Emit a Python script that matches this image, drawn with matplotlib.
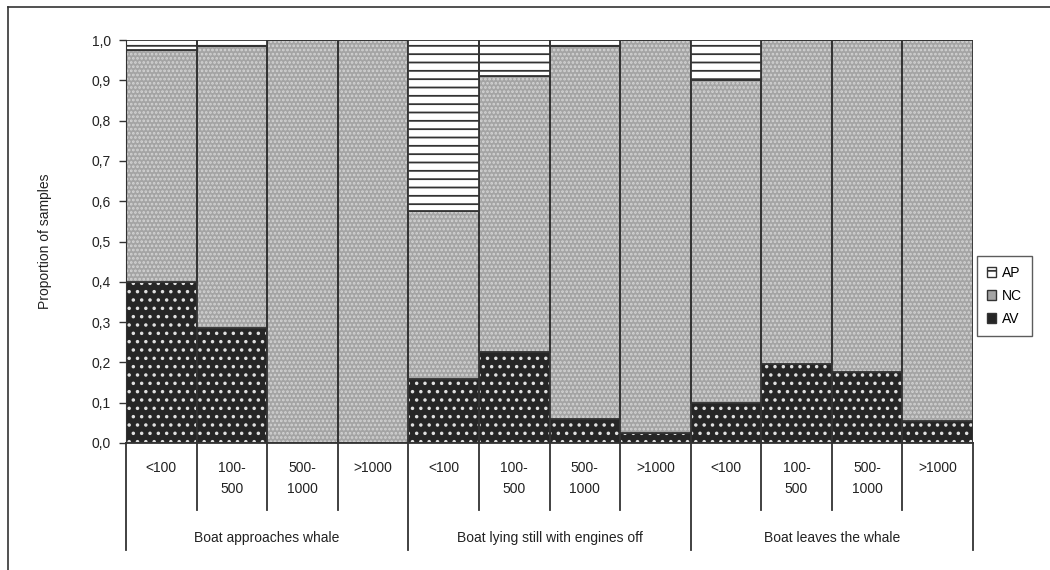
import matplotlib.pyplot as plt
import matplotlib.transforms as mtransforms
from matplotlib.patches import Patch
from matplotlib.lines import Line2D
import numpy as np

plt.rcParams['font.family'] = ['Liberation Sans', 'DejaVu Sans']
plt.rcParams['hatch.linewidth'] = 1.3

groups = ['Boat approaches whale', 'Boat lying still with engines off', 'Boat leaves the whale']
distances = ['<100', '100-\n500', '500-\n1000', '>1000']

av = [0.40, 0.285, 0.0, 0.0,
      0.16, 0.225, 0.06, 0.025,
      0.10, 0.195, 0.175, 0.055]
nc = [0.575, 0.70, 1.0, 1.0,
      0.415, 0.685, 0.925, 0.975,
      0.80, 0.805, 0.825, 0.945]
ap = [0.025, 0.015, 0.0, 0.0,
      0.425, 0.09, 0.015, 0.0,
      0.10, 0.0, 0.0, 0.0]

W, H = 1050, 570
fig = plt.figure(figsize=(W / 100, H / 100), dpi=100)
ax = fig.add_axes([126 / W, (H - 443) / H, (973 - 126) / W, (443 - 40) / H])

x = np.arange(len(av))
av = np.array(av)
nc = np.array(nc)
ap = np.array(ap)
outline = '#333333'

# fills with hatches (hatch colour comes from edgecolor), then outlines on top
series = [
    (av, np.zeros_like(av), '#262626', '#e0e0e0', '..'),
    (nc, av, '#a4a4a4', '#d4d4d4', '....'),
    (ap, av + nc, 'white', '#333333', '--'),
]
for vals, bottom, face, hcol, hatch in series:
    ax.bar(x, vals, 1.0, bottom=bottom, color=face, edgecolor=hcol,
           hatch=hatch, linewidth=0, align='center')
    ax.bar(x, vals, 1.0, bottom=bottom, fill=False, edgecolor=outline,
           linewidth=1.3, align='center')

ax.set_xlim(-0.5, len(av) - 0.5)
ax.set_ylim(0, 1.0)
ax.set_yticks(np.arange(0, 1.01, 0.1))
ax.set_yticklabels([('%.1f' % v).replace('.', ',') for v in np.arange(0, 1.01, 0.1)],
                   fontsize=10, color='#222222')
ax.tick_params(axis='y', direction='out', length=5, width=1, color='#333333', pad=6)
ax.set_xticks([])
for s in ['top', 'right']:
    ax.spines[s].set_visible(False)
ax.spines['left'].set_color('#333333')
ax.spines['bottom'].set_color('#333333')
ax.spines['bottom'].set_linewidth(1.3)
ax.set_ylabel('Proportion of samples', fontsize=10, color='#222222', labelpad=28)

# multi-level category axis
tr = mtransforms.blended_transform_factory(ax.transData, ax.transAxes)
inner_y = (443 - 510) / 403
outer_y = (443 - 550) / 403
for i in range(len(av) + 1):
    b = i - 0.5
    low = outer_y if i % 4 == 0 else inner_y
    ax.plot([b, b], [0, low], color='#333333', lw=1.3, transform=tr, clip_on=False)
for i, lab in enumerate(distances * len(groups)):
    ax.text(i, -0.045, lab, transform=tr, ha='center', va='top', fontsize=10,
            color='#222222', linespacing=1.6)
for g, name in enumerate(groups):
    ax.text(g * 4 + 1.5, -0.236, name, transform=tr, ha='center', va='center',
            fontsize=10, color='#222222')

# legend
handles = [
    Patch(facecolor='white', edgecolor='#333333', hatch='--', label='AP'),
    Patch(facecolor='#a4a4a4', edgecolor='#333333', label='NC'),
    Patch(facecolor='#262626', edgecolor='#333333', label='AV'),
]
leg = fig.legend(handles=handles, loc='center left', bbox_to_anchor=(977 / W, 1 - 296 / H),
                 frameon=True, fancybox=False, fontsize=10, handlelength=0.7,
                 handleheight=0.7, handletextpad=0.4, labelspacing=0.65, borderpad=0.7,
                 borderaxespad=0)
leg.get_frame().set_edgecolor('#333333')
leg.get_frame().set_linewidth(1)

# outer frame (only top and left visible in the image)
fig.add_artist(Line2D([8 / W, 8 / W], [0, 1 - 7 / H], color='#333333', lw=1.2))
fig.add_artist(Line2D([8 / W, 1], [1 - 7 / H, 1 - 7 / H], color='#333333', lw=1.2))

fig.savefig('out.png', dpi=100)
